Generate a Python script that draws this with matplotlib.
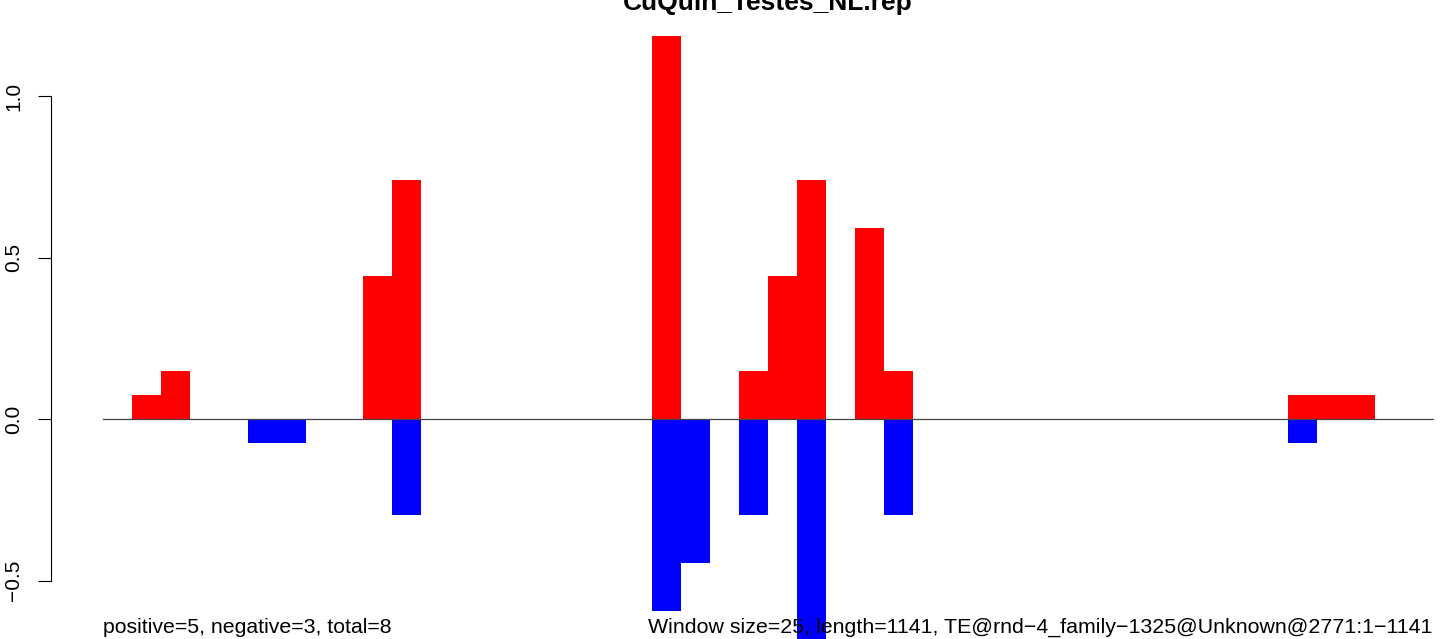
import numpy as np
import matplotlib.pyplot as plt

plt.rcParams['font.family'] = ['Liberation Sans', 'DejaVu Sans']

# window data (window size 25 bp)
win_size = 25
n_windows = 46
pos_windows = [1, 2, 9, 10, 19, 22, 23, 24, 26, 27, 41, 42, 43]
pos_values = [0.074, 0.148, 0.444, 0.741, 1.185, 0.148, 0.444, 0.741, 0.593, 0.148, 0.074, 0.074, 0.074]
neg_windows = [5, 6, 10, 19, 20, 22, 24, 27, 41]
neg_values = [-0.074, -0.074, -0.296, -0.593, -0.444, -0.296, -0.741, -0.296, -0.074]

title = "CuQuin_Testes_NL.rep"
left_note = "positive=5, negative=3, total=8"
right_note = "Window size=25, length=1141, TE@rnd\u22124_family\u22121325@Unknown@2771:1\u22121141"

W, H = 1441, 639
fig = plt.figure(figsize=(W / 100, H / 100), dpi=100)
ax = fig.add_axes([50.5 / W, 0, 1 - 50.5 / W, 1])

# bars
ax.bar(np.array(pos_windows) * win_size, pos_values, width=win_size, align='edge',
       color='#ff0000', linewidth=0)
ax.bar(np.array(neg_windows) * win_size, neg_values, width=win_size, align='edge',
       color='#0000ff', linewidth=0)

# zero line
total_len = n_windows * win_size
ax.plot([0, total_len], [0, 0], color='#444444', linewidth=0.9)

# limits so that the figure is a crop of a larger R plot
px_per_unit_x = (1432.7 - 103.3) / total_len
ax.set_xlim(-(103.3 - 50.5) / px_per_unit_x, total_len + (W - 1432.7) / px_per_unit_x)
px_per_unit_y = (580.7 - 96) / 1.5
zero_px = 96 + px_per_unit_y
ax.set_ylim(-(H - zero_px) / px_per_unit_y, zero_px / px_per_unit_y)

# axes styling
for s in ['top', 'right', 'bottom']:
    ax.spines[s].set_visible(False)
ax.spines['left'].set_bounds(-0.5, 1.0)
ax.spines['left'].set_linewidth(0.8)
ax.set_xticks([])
ax.set_yticks([-0.5, 0.0, 0.5, 1.0])
ax.set_yticklabels(['\u22120.5', '0.0', '0.5', '1.0'], rotation=90, va='center')
ax.tick_params(axis='y', length=9.5, width=0.8, pad=10, labelsize=15)

# texts
fig.text(768 / W, 1 - 10 / H, title, ha='center', va='baseline',
         fontsize=19, fontweight='bold')
ax.text(0, -(633 - zero_px) / px_per_unit_y, left_note, ha='left', va='baseline', fontsize=15.3)
ax.text(total_len, -(633 - zero_px) / px_per_unit_y, right_note, ha='right', va='baseline',
        fontsize=15.4)

fig.savefig('out.png', dpi=100)
